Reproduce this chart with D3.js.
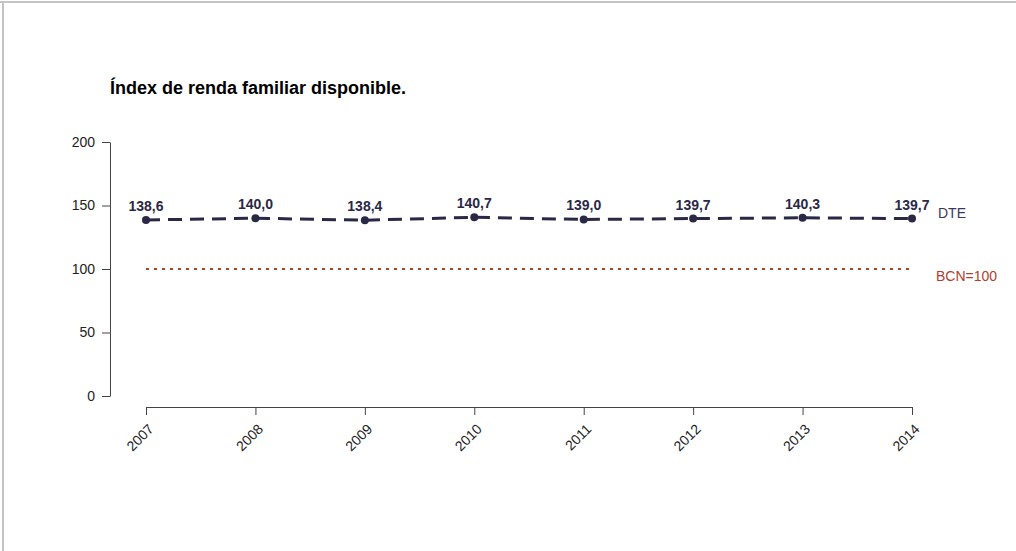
<!DOCTYPE html>
<html><head><meta charset="utf-8">
<script src="https://cdn.jsdelivr.net/npm/d3@7"></script>
<style>
html,body{margin:0;padding:0;background:#fff;}
svg{display:block;font-family:"Liberation Sans",Arial,sans-serif;}
</style></head>
<body>
<svg id="c" width="1016" height="551"></svg>
<script>
const years = ["2007","2008","2009","2010","2011","2012","2013","2014"];
const dteValues = [138.6, 140.0, 138.4, 140.7, 139.0, 139.7, 140.3, 139.7];
const bcnValue = 100;
const yTicks = [0, 50, 100, 150, 200];
const title = "Índex de renda familiar disponible.";
const seriesName = "DTE";
const refName = "BCN=100";

const svg = d3.select("#c");
// frame borders
svg.append("line").attr("x1",0).attr("x2",1016).attr("y1",2).attr("y2",2).attr("stroke","#c4c4c4").attr("stroke-width",2);
svg.append("line").attr("x1",3).attr("x2",3).attr("y1",2).attr("y2",551).attr("stroke","#c4c4c4").attr("stroke-width",2);

const x = d3.scalePoint().domain(years).range([146, 912]);
const y = d3.scaleLinear().domain([0, 200]).range([396, 142]);

svg.append("text").attr("x",110).attr("y",94).attr("font-weight","bold").attr("font-size",18).attr("fill","#000").text(title);

// y axis
const ya = svg.append("g").attr("transform","translate(110,0)")
  .call(d3.axisLeft(y).tickValues(yTicks).tickSize(8).tickPadding(7).tickSizeOuter(0));
ya.attr("font-size",14).attr("font-family","Liberation Sans, Arial, sans-serif");
ya.select(".domain").attr("stroke","#444");
ya.selectAll(".tick line").attr("stroke","#444");
ya.selectAll("text").attr("font-size",14).attr("fill","#222");

// x axis
const xa = svg.append("g").attr("transform","translate(0,407)")
  .call(d3.axisBottom(x).tickSize(8).tickSizeOuter(0));
xa.attr("font-size",14).attr("font-family","Liberation Sans, Arial, sans-serif");
xa.select(".domain").attr("stroke","#444");
xa.selectAll(".tick line").attr("stroke","#444");
xa.selectAll("text").attr("font-size",14).attr("fill","#222")
  .attr("text-anchor","end").attr("dy",0).attr("y",0)
  .attr("transform","translate(8,23) rotate(-45)");

// reference line
svg.append("line").attr("x1",x(years[0])).attr("x2",x(years[years.length-1]))
  .attr("y1",y(bcnValue)).attr("y2",y(bcnValue))
  .attr("stroke","#b0402e").attr("stroke-width",2).attr("stroke-dasharray","3,5");
svg.append("text").attr("x",936).attr("y",y(bcnValue)+12).attr("font-size",14).attr("fill","#b0402e").text(refName);

// series
const data = years.map((yr,i)=>({yr, v:dteValues[i]}));
const line = d3.line().x(d=>x(d.yr)).y(d=>y(d.v));
svg.append("path").datum(data).attr("d",line).attr("fill","none")
  .attr("stroke","#2b2846").attr("stroke-width",3).attr("stroke-dasharray","14,8");
svg.selectAll("circle.pt").data(data).enter().append("circle")
  .attr("cx",d=>x(d.yr)).attr("cy",d=>y(d.v)).attr("r",4).attr("fill","#2b2846");
svg.selectAll("text.lbl").data(data).enter().append("text")
  .attr("x",d=>x(d.yr)).attr("y",d=>y(d.v)-9).attr("text-anchor","middle")
  .attr("font-size",14).attr("font-weight","bold").attr("fill","#2b2846")
  .text(d=>d3.format(".1f")(d.v).replace(".",","));
svg.append("text").attr("x",938).attr("y",y(dteValues[dteValues.length-1])-1).attr("font-size",14).attr("fill","#3a3760").text(seriesName);
</script>
</body></html>
